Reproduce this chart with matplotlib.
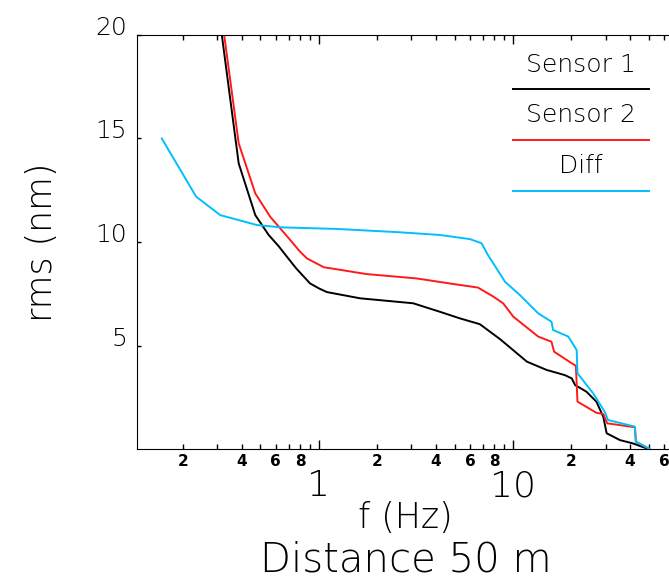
import numpy as np
import matplotlib
matplotlib.use('Agg')
import matplotlib.pyplot as plt
from matplotlib.lines import Line2D
from matplotlib.ticker import FixedLocator, FuncFormatter

## data (f in Hz, rms in nm)
f_s1   = [0.30, 0.316, 0.386, 0.47, 0.551, 0.62, 0.684, 0.76, 0.82, 0.9, 1.0, 1.1, 1.63, 3.06, 4.2, 5.33, 6.75,
          8.6, 11.8, 14.9, 18.5, 20.1, 20.9, 23.9, 26.9, 29.2, 30.4, 35.6, 41.5, 49.9]
rms_s1 = [22.0, 20.0, 13.8, 11.3, 10.34, 9.8, 9.29, 8.75, 8.41, 8.0, 7.76, 7.58, 7.28, 7.04, 6.63, 6.31, 6.03,
          5.3, 4.22, 3.82, 3.57, 3.41, 3.09, 2.77, 2.29, 1.56, 0.76, 0.43, 0.27, 0.0]

f_s2   = [0.31, 0.325, 0.386, 0.47, 0.561, 0.711, 0.80, 0.867, 1.06, 1.24, 1.76, 3.19, 4.93, 6.6,
          7.93, 8.9, 10.05, 13.5, 15.8, 16.3, 20.1, 21.1, 21.5, 26.9, 29.2, 30.6, 42.5, 43.0, 49.9]
rms_s2 = [22.0, 20.0, 14.77, 12.35, 11.22, 10.1, 9.53, 9.21, 8.78, 8.68, 8.45, 8.24, 7.97, 7.8,
          7.36, 7.04, 6.39, 5.43, 5.18, 4.70, 4.14, 4.02, 2.29, 1.75, 1.69, 1.24, 1.05, 0.35, 0.03]

f_df   = [0.155, 0.233, 0.31, 0.479, 0.632, 1.24, 2.61, 4.2, 6.0, 6.89, 7.4, 9.1, 10.85, 13.5,
          15.8, 16.1, 19.3, 21.3, 21.5, 25.9, 29.7, 30.9, 42.5, 43.0, 50.8]
rms_df = [15.0, 12.19, 11.30, 10.82, 10.71, 10.63, 10.47, 10.34, 10.14, 9.94, 9.4, 8.08, 7.44, 6.55,
          6.15, 5.75, 5.43, 4.78, 3.66, 2.69, 1.80, 1.40, 1.08, 0.35, 0.0]

labels = ['Sensor 1', 'Sensor 2', 'Diff']
colors = ['black', '#ff1a1a', '#00bfff']

yt     = [5, 10, 15, 20]
yt_lab = ['5', '10', '15', '20']
xt     = [1, 10]
xt_lab = ['1', '10']
xminor = [d*m for d in (0.1, 1, 10) for m in range(2, 10)]

## figure
W, H = 669, 580
fig = plt.figure(figsize=(W/100, H/100), dpi=100)
ax = fig.add_axes([137/W, 1-449/H, 536/W, 414/H])

for fx, ry, c in zip([f_s1, f_s2, f_df], [rms_s1, rms_s2, rms_df], colors):
    ax.plot(fx, ry, color=c, lw=1.4)

ax.set_xscale('log')
ax.set_xlim(0.1155, 66.8)
ax.set_ylim(0, 20)
ax.spines['right'].set_visible(False)

ax.set_yticks(yt, labels=yt_lab, va='baseline', fontweight='light')
ax.set_xticks(xt, labels=xt_lab, fontweight='light')
ax.xaxis.set_minor_locator(FixedLocator(xminor))
def minor_fmt(v, p):
    d = int(round(v / 10**np.floor(np.log10(v) + 1e-9)))
    return str(d) if d in (2, 4, 6, 8) else ''
ax.xaxis.set_minor_formatter(FuncFormatter(minor_fmt))

ax.tick_params(axis='x', which='major', direction='in', top=True, length=6.5, width=1,
               labelsize=26, pad=14.5)
ax.tick_params(axis='x', which='minor', direction='in', top=True, length=3.8, width=1,
               labelsize=11, pad=3.5)
for t in ax.xaxis.get_minorticklabels():
    t.set_fontweight('bold')
ax.tick_params(axis='y', which='major', direction='in', length=3, width=1,
               labelsize=18, pad=7)

ax.set_xlabel('f (Hz)', fontsize=25, fontweight='light', va='center')
ax.xaxis.set_label_coords(0.5, -0.166)
ax.set_ylabel('rms (nm)', fontsize=25, fontweight='light', va='center')
ax.yaxis.set_label_coords(-0.178, 0.5)
fig.text(406/W, 1-560/H, 'Distance 50 m', fontsize=29, fontweight='light',
         ha='center', va='center')

## legend drawn by hand: text above a coloured line
for i, (lab, c) in enumerate(zip(labels, colors)):
    ty = 65 + 50.5*i
    ly = 89 + 51*i
    fig.text(581/W, 1-ty/H, lab, fontsize=18, fontweight='light', ha='center', va='center')
    fig.add_artist(Line2D([513/W, 649/W], [1-ly/H, 1-ly/H], color=c, lw=1.4,
                          transform=fig.transFigure))

fig.savefig('out.png', dpi=100)
